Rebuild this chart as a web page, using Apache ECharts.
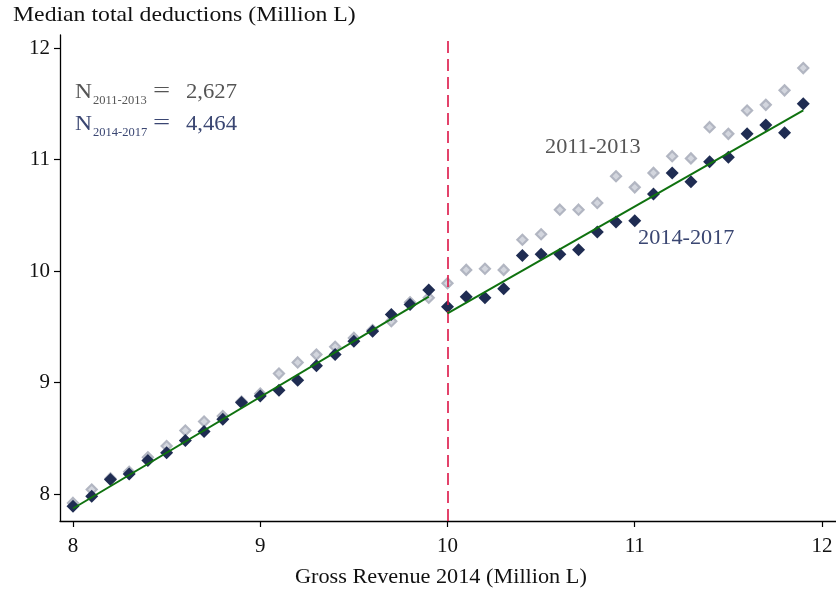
<!DOCTYPE html>
<html>
<head>
<meta charset="utf-8">
<script src="https://cdn.jsdelivr.net/npm/echarts@6/dist/echarts.min.js"></script>
<style>
  html, body { margin: 0; padding: 0; background: #fff; }
  #chart { width: 836px; height: 594px; }
</style>
</head>
<body>
<div id="chart"></div>
<script>
// Gross revenue bins (million L)
const revenue = [8.0, 8.1, 8.2, 8.3, 8.4, 8.5, 8.6, 8.7, 8.8, 8.9,
                 9.0, 9.1, 9.2, 9.3, 9.4, 9.5, 9.6, 9.7, 9.8, 9.9,
                 10.0, 10.1, 10.2, 10.3, 10.4, 10.5, 10.6, 10.7, 10.8, 10.9,
                 11.0, 11.1, 11.2, 11.3, 11.4, 11.5, 11.6, 11.7, 11.8, 11.9];

// Median total deductions, 2011-2013
const deductions2011 = [7.92, 8.04, 8.14, 8.20, 8.33, 8.43, 8.57, 8.65, 8.70, 8.83,
                        8.90, 9.08, 9.18, 9.25, 9.32, 9.40, 9.47, 9.55, 9.72, 9.76,
                        9.89, 10.01, 10.02, 10.01, 10.28, 10.33, 10.55, 10.55, 10.61, 10.85,
                        10.75, 10.88, 11.03, 11.01, 11.29, 11.23, 11.44, 11.49, 11.62, 11.82];

// Median total deductions, 2014-2017
const deductions2014 = [7.89, 7.98, 8.13, 8.18, 8.30, 8.37, 8.48, 8.56, 8.67, 8.82,
                        8.88, 8.93, 9.02, 9.15, 9.25, 9.37, 9.46, 9.61, 9.70, 9.83,
                        9.68, 9.77, 9.76, 9.84, 10.14, 10.15, 10.15, 10.19, 10.35, 10.44,
                        10.45, 10.69, 10.88, 10.80, 10.98, 11.02, 11.23, 11.31, 11.24, 11.50];

// Linear fits on each side of the threshold (endpoints: revenue, deductions)
const fitBelowX = [8.0, 9.9];
const fitBelowY = [7.87, 9.77];
const fitAboveX = [10.0, 11.9];
const fitAboveY = [9.62, 11.44];

const threshold = 10;
const xTicks = [8, 9, 10, 11, 12];
const yTicks = [8, 9, 10, 11, 12];
const n2011 = '2,627';
const n2014 = '4,464';

const FONT = '"Liberation Serif", "DejaVu Serif", serif';
const DARK = '#1f2c52';
const GREY_FILL = '#d3d6de';
const GREY_EDGE = '#b2b6c2';
const GREY_TEXT = '#555555';
const NAVY_TEXT = '#3a4672';

const pairs = (xs, ys) => xs.map((x, i) => [x, ys[i]]);

// Sample-size note: "N" with a subscript period, then "= count"
function countNote(top, period, count, color) {
  return [
    { type: 'text', x: 75, y: top, scaleX: 1.12, style: { text: 'N', fill: color, font: '21px ' + FONT } },
    { type: 'text', x: 93, y: top + 12, style: { text: period, fill: color, font: '12.5px ' + FONT } },
    { type: 'text', x: 153, y: top - 1, scaleX: 1.45, style: { text: '=', fill: color, font: '21px ' + FONT } },
    { type: 'text', x: 186, y: top, scaleX: 1.08, style: { text: count, fill: color, font: '21px ' + FONT } }
  ];
}

const chart = echarts.init(document.getElementById('chart'), null, { renderer: 'canvas' });

chart.setOption({
  animation: false,
  backgroundColor: '#ffffff',
  grid: { left: 60, right: 0, top: 35, bottom: 73 },
  xAxis: {
    type: 'value',
    min: 7.9306,
    max: 12.0748,
    splitLine: { show: false },
    axisLine: { show: true, onZero: false, lineStyle: { color: '#000', width: 1.3 } },
    axisTick: { show: true, customValues: xTicks, length: 6, lineStyle: { color: '#000', width: 1.2 } },
    axisLabel: { customValues: xTicks, color: '#111', fontFamily: FONT, fontSize: 21, margin: 15 }
  },
  yAxis: {
    type: 'value',
    min: 7.7578,
    max: 12.1166,
    splitLine: { show: false },
    axisLine: { show: true, onZero: false, lineStyle: { color: '#000', width: 1.3 } },
    axisTick: { show: true, customValues: yTicks, length: 6, lineStyle: { color: '#000', width: 1.2 } },
    axisLabel: { customValues: yTicks, color: '#111', fontFamily: FONT, fontSize: 21, margin: 10 }
  },
  graphic: [
    {
      type: 'text', x: 13, y: 5, scaleX: 1.13,
      style: { text: 'Median total deductions (Million L)', fill: '#111', font: '21px ' + FONT }
    },
    {
      type: 'text', x: 295, y: 567, scaleX: 1.06,
      style: { text: 'Gross Revenue 2014 (Million L)', fill: '#111', font: '21px ' + FONT }
    },
    {
      type: 'text', x: 545, y: 137, scaleX: 1.06,
      style: { text: '2011-2013', fill: GREY_TEXT, font: '21px ' + FONT }
    },
    {
      type: 'text', x: 638, y: 228, scaleX: 1.06,
      style: { text: '2014-2017', fill: NAVY_TEXT, font: '21px ' + FONT }
    }
  ].concat(countNote(82, '2011-2013', n2011, GREY_TEXT), countNote(114, '2014-2017', n2014, NAVY_TEXT)),
  series: [
    {
      name: 'threshold',
      type: 'line',
      data: [],
      silent: true,
      markLine: {
        symbol: 'none',
        silent: true,
        label: { show: false },
        lineStyle: { color: '#dc1446', width: 1.6, type: [12, 6] },
        data: [{ xAxis: threshold }]
      }
    },
    {
      name: '2011-2013',
      type: 'scatter',
      symbol: 'diamond',
      symbolSize: 10,
      z: 3,
      itemStyle: { color: GREY_FILL, borderColor: GREY_EDGE, borderWidth: 2.2, opacity: 1 },
      data: pairs(revenue, deductions2011)
    },
    {
      name: '2014-2017',
      type: 'scatter',
      symbol: 'diamond',
      symbolSize: 13,
      z: 4,
      itemStyle: { color: DARK, opacity: 1 },
      data: pairs(revenue, deductions2014)
    },
    {
      name: 'fit below',
      type: 'line',
      symbol: 'none',
      z: 5,
      lineStyle: { color: '#0f720f', width: 2 },
      data: pairs(fitBelowX, fitBelowY)
    },
    {
      name: 'fit above',
      type: 'line',
      symbol: 'none',
      z: 5,
      lineStyle: { color: '#0f720f', width: 2 },
      data: pairs(fitAboveX, fitAboveY)
    }
  ]
});
</script>
</body>
</html>
